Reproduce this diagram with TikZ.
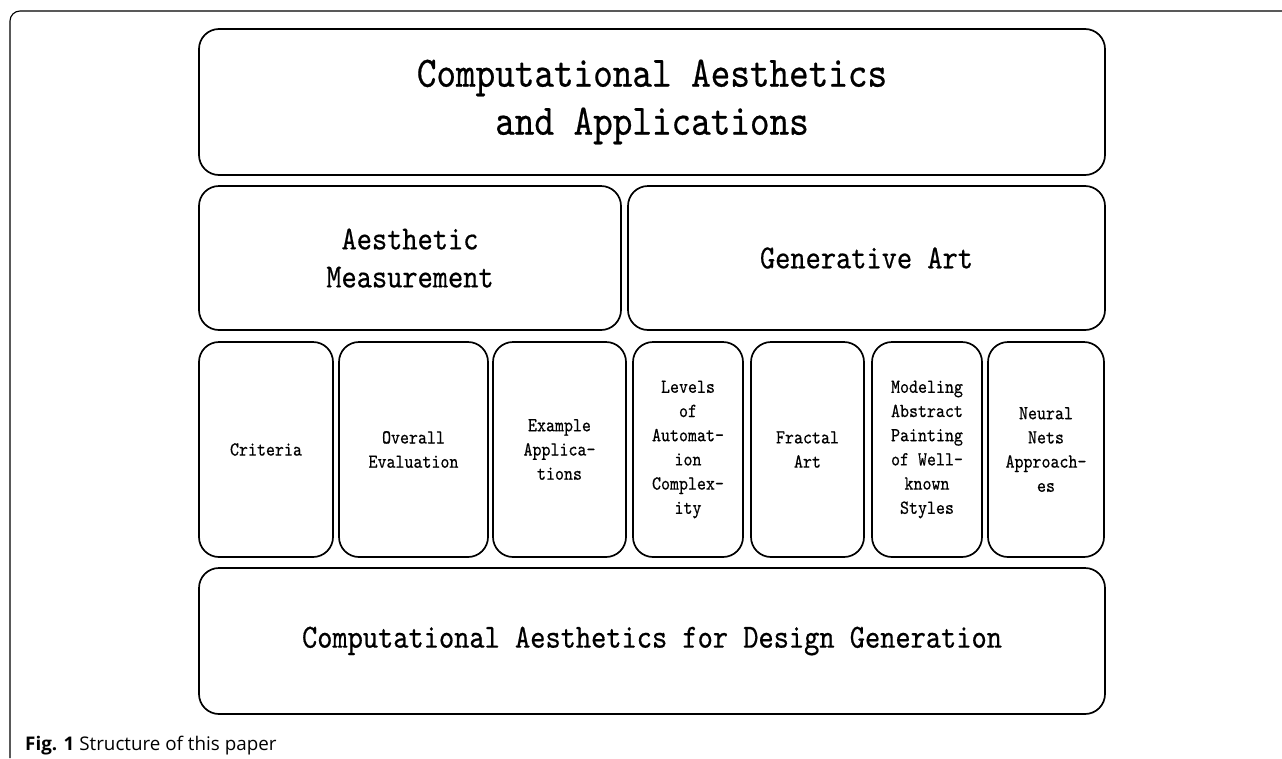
\documentclass[tikz,border=0pt]{standalone}
\usepackage{fontspec}
\setsansfont{Open Sans}
\newfontfamily\boxfont{lmmono10-regular.otf}[FakeStretch=0.86,FakeBold=0.5]
\begin{document}
\begin{tikzpicture}[x=1pt,y=-1pt,
    part/.style={draw=black,line width=1.7pt,rounded corners=20pt,
      inner sep=0pt,align=center},
    wide/.style={part,minimum width=906pt,minimum height=146pt},
    half/.style={part,minimum height=144pt},
    leaf/.style={part,minimum height=215pt,
      font=\boxfont\fontsize{19.9}{24.2}\selectfont},
    large/.style={font=\boxfont\fontsize{43.4}{48}\selectfont},
    medium/.style={font=\boxfont\fontsize{33.7}{38}\selectfont}]
  \useasboundingbox (0,0) rectangle (1282,758);
  \draw[line width=1.1pt,rounded corners=10pt] (10,758) -- (10,11) -- (1282,11);

  \node[wide,large] (top) at (652,102) {Computational Aesthetics\\and Applications};

  \node[half,medium,minimum width=422pt] (measure) at (410,258) {Aesthetic\\Measurement};
  \node[half,medium,minimum width=477pt] (genart) at (866.5,258) {Generative Art};

  \node[leaf,minimum width=134pt] (criteria) at (266,449.5) {Criteria};
  \node[leaf,minimum width=149pt] (overall) at (413.5,449.5) {Overall\\Evaluation};
  \node[leaf,minimum width=133pt] (example) at (559.5,449.5) {Example\\Applica-\\tions};
  \node[leaf,minimum width=110pt] (levels) at (688,449.5)
    {Levels\\of\\Automat-\\ion\\Complex-\\ity};
  \node[leaf,minimum width=113pt] (fractal) at (807.5,449.5) {Fractal\\Art};
  \node[leaf,minimum width=110pt] (modeling) at (927,449.5)
    {Modeling\\Abstract\\Painting\\of Well-\\known\\Styles};
  \node[leaf,minimum width=116pt] (neural) at (1046,449.5)
    {Neural\\Nets\\Approach-\\es};

  \node[wide,medium] (design) at (652,641) {Computational Aesthetics for Design Generation};

  \node[anchor=base west,inner sep=0pt,font=\sffamily\fontsize{18.8}{22}\selectfont]
    (caption) at (25,750) {\textbf{Fig. 1} Structure of this paper};
\end{tikzpicture}
\end{document}
